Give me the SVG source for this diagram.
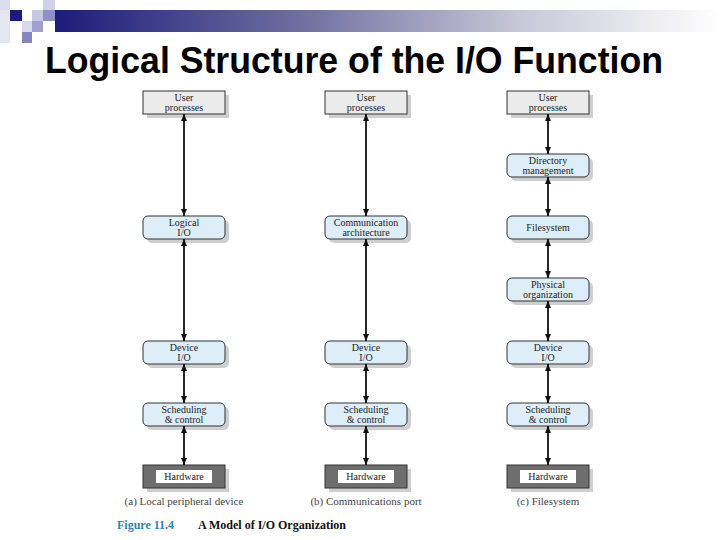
<svg xmlns="http://www.w3.org/2000/svg" width="720" height="540" viewBox="0 0 720 540">
<defs>
<linearGradient id="bar" x1="0" y1="0" x2="1" y2="0">
<stop offset="0" stop-color="#1c1c7a"/>
<stop offset="0.35" stop-color="#6a6a9e"/>
<stop offset="0.7" stop-color="#c8c8d8"/>
<stop offset="1" stop-color="#ffffff"/>
</linearGradient>
<marker id="ah" viewBox="0 0 7 7" refX="7" refY="3.5" markerWidth="7" markerHeight="7" markerUnits="userSpaceOnUse" orient="auto-start-reverse">
<path d="M0,0.5 L7,3.5 L0,6.5 z" fill="#111"/>
</marker>
<style>
.title{font-family:"Liberation Sans",Arial,sans-serif;font-weight:bold;font-size:36px;fill:#000}
.box{fill:#ddeef9;stroke:#333;stroke-width:1}
.ubox{fill:#ebebeb;stroke:#333;stroke-width:1}
.hbox{fill:#6e6e6e;stroke:#333;stroke-width:1}
.shadow{fill:#cfcfcf}
.t{font-family:"Liberation Serif","Times New Roman",serif;font-size:10px;fill:#222;text-anchor:middle}
.cap{font-family:"Liberation Serif","Times New Roman",serif;font-size:11px;fill:#444;text-anchor:middle}
.fig{font-family:"Liberation Serif","Times New Roman",serif;font-size:12px;font-weight:bold}
.conn line{stroke:#111;stroke-width:1.8;marker-start:url(#ah);marker-end:url(#ah)}
</style>
</defs>
<rect width="720" height="540" fill="#fff"/>
<g id="header">
<rect x="0" y="10" width="10" height="33" fill="#e6e6f3"/>
<rect x="0" y="0" width="10" height="10" fill="#dcdcef"/>
<rect x="10" y="10" width="12" height="11" fill="#1a1a80"/>
<rect x="32" y="10" width="11" height="11" fill="#c8c8e4"/>
<rect x="43" y="0" width="12" height="10" fill="#d0d0e8"/>
<rect x="43" y="10" width="12" height="11" fill="#9090c8"/>
<rect x="22" y="21" width="10" height="11" fill="#d8d8ee"/>
<rect x="32" y="21" width="11" height="11" fill="#a0a0d0"/>
<rect x="22" y="32" width="10" height="11" fill="#8585c0"/>
<rect x="55" y="10" width="665" height="22" fill="url(#bar)"/>
<text class="title" x="45" y="73" textLength="618" lengthAdjust="spacingAndGlyphs">Logical Structure of the I/O Function</text>
</g>
<g id="col-a">
<g id="a-user"><rect class="shadow" x="147" y="95" width="82" height="23"/><rect class="ubox" x="143" y="91" width="82" height="23"/><text class="t" x="184" y="100.5">User</text><text class="t" x="184" y="111">processes</text></g>
<g id="a-logical"><rect class="shadow" x="147" y="220" width="82" height="23" rx="5"/><rect class="box" x="143" y="216" width="82" height="23" rx="5"/><text class="t" x="184" y="225.5">Logical</text><text class="t" x="184" y="236">I/O</text></g>
<g id="a-device"><rect class="shadow" x="147" y="345" width="82" height="23" rx="5"/><rect class="box" x="143" y="341" width="82" height="23" rx="5"/><text class="t" x="184" y="350.5">Device</text><text class="t" x="184" y="361">I/O</text></g>
<g id="a-sched"><rect class="shadow" x="147" y="407" width="82" height="23" rx="5"/><rect class="box" x="143" y="403" width="82" height="23" rx="5"/><text class="t" x="184" y="412.5">Scheduling</text><text class="t" x="184" y="423">&amp; control</text></g>
<g id="a-hw"><rect class="shadow" x="147" y="469" width="82" height="23"/><rect class="hbox" x="143" y="465" width="82" height="23"/><rect x="156" y="470" width="56" height="13" fill="#fff"/><text class="t" x="184" y="480">Hardware</text></g>
<text class="cap" x="184" y="505">(a) Local peripheral device</text>
</g>
<g id="col-b">
<g id="b-user"><rect class="shadow" x="329" y="95" width="82" height="23"/><rect class="ubox" x="325" y="91" width="82" height="23"/><text class="t" x="366" y="100.5">User</text><text class="t" x="366" y="111">processes</text></g>
<g id="b-comm"><rect class="shadow" x="329" y="220" width="82" height="23" rx="5"/><rect class="box" x="325" y="216" width="82" height="23" rx="5"/><text class="t" x="366" y="225.5">Communication</text><text class="t" x="366" y="236">architecture</text></g>
<g id="b-device"><rect class="shadow" x="329" y="345" width="82" height="23" rx="5"/><rect class="box" x="325" y="341" width="82" height="23" rx="5"/><text class="t" x="366" y="350.5">Device</text><text class="t" x="366" y="361">I/O</text></g>
<g id="b-sched"><rect class="shadow" x="329" y="407" width="82" height="23" rx="5"/><rect class="box" x="325" y="403" width="82" height="23" rx="5"/><text class="t" x="366" y="412.5">Scheduling</text><text class="t" x="366" y="423">&amp; control</text></g>
<g id="b-hw"><rect class="shadow" x="329" y="469" width="82" height="23"/><rect class="hbox" x="325" y="465" width="82" height="23"/><rect x="338" y="470" width="56" height="13" fill="#fff"/><text class="t" x="366" y="480">Hardware</text></g>
<text class="cap" x="366" y="505">(b) Communications port</text>
</g>
<g id="col-c">
<g id="c-user"><rect class="shadow" x="511" y="95" width="82" height="23"/><rect class="ubox" x="507" y="91" width="82" height="23"/><text class="t" x="548" y="100.5">User</text><text class="t" x="548" y="111">processes</text></g>
<g id="c-dir"><rect class="shadow" x="511" y="158" width="82" height="23" rx="5"/><rect class="box" x="507" y="154" width="82" height="23" rx="5"/><text class="t" x="548" y="163.5">Directory</text><text class="t" x="548" y="174">management</text></g>
<g id="c-fs"><rect class="shadow" x="511" y="220" width="82" height="23" rx="5"/><rect class="box" x="507" y="216" width="82" height="23" rx="5"/><text class="t" x="548" y="231">Filesystem</text></g>
<g id="c-phys"><rect class="shadow" x="511" y="282" width="82" height="23" rx="5"/><rect class="box" x="507" y="278" width="82" height="23" rx="5"/><text class="t" x="548" y="287.5">Physical</text><text class="t" x="548" y="298">organization</text></g>
<g id="c-device"><rect class="shadow" x="511" y="345" width="82" height="23" rx="5"/><rect class="box" x="507" y="341" width="82" height="23" rx="5"/><text class="t" x="548" y="350.5">Device</text><text class="t" x="548" y="361">I/O</text></g>
<g id="c-sched"><rect class="shadow" x="511" y="407" width="82" height="23" rx="5"/><rect class="box" x="507" y="403" width="82" height="23" rx="5"/><text class="t" x="548" y="412.5">Scheduling</text><text class="t" x="548" y="423">&amp; control</text></g>
<g id="c-hw"><rect class="shadow" x="511" y="469" width="82" height="23"/><rect class="hbox" x="507" y="465" width="82" height="23"/><rect x="520" y="470" width="56" height="13" fill="#fff"/><text class="t" x="548" y="480">Hardware</text></g>
<text class="cap" x="548" y="505">(c) Filesystem</text>
</g>
<g id="connectors" class="conn">
<line x1="184" y1="114" x2="184" y2="216"/>
<line x1="184" y1="239" x2="184" y2="341"/>
<line x1="184" y1="364" x2="184" y2="403"/>
<line x1="184" y1="426" x2="184" y2="465"/>
<line x1="366" y1="114" x2="366" y2="216"/>
<line x1="366" y1="239" x2="366" y2="341"/>
<line x1="366" y1="364" x2="366" y2="403"/>
<line x1="366" y1="426" x2="366" y2="465"/>
<line x1="548" y1="114" x2="548" y2="154"/>
<line x1="548" y1="177" x2="548" y2="216"/>
<line x1="548" y1="239" x2="548" y2="278"/>
<line x1="548" y1="301" x2="548" y2="341"/>
<line x1="548" y1="364" x2="548" y2="403"/>
<line x1="548" y1="426" x2="548" y2="465"/>
</g>
<g id="figure-caption">
<text class="fig" x="117" y="529"><tspan fill="#2a88b8">Figure 11.4</tspan><tspan fill="#111" x="198">A Model of I/O Organization</tspan></text>
</g>
</svg>
